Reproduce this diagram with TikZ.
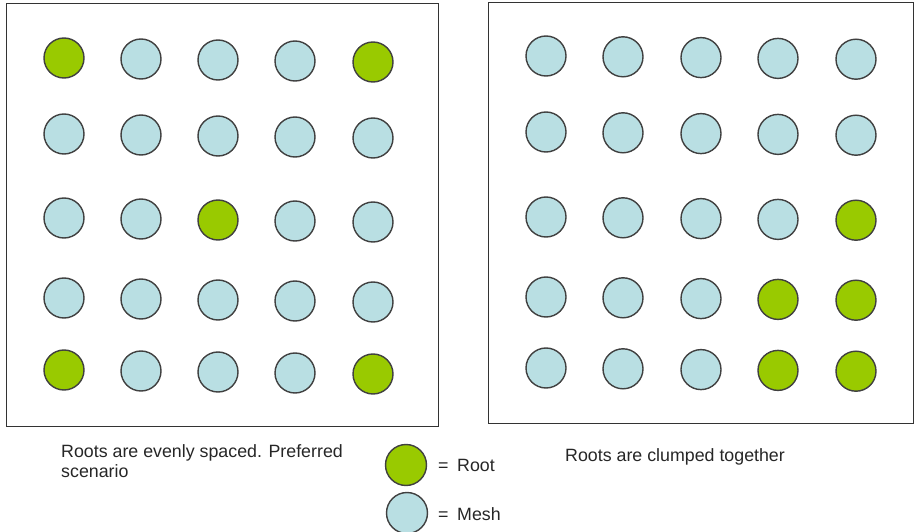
\documentclass[tikz,border=0pt]{standalone}
\usepackage{fontspec}
\setmainfont{Liberation Sans}
\definecolor{rootgreen}{HTML}{99CA00}
\definecolor{meshblue}{HTML}{B9DFE3}
\definecolor{edge}{HTML}{404040}
\begin{document}
\begin{tikzpicture}[x=1pt,y=-1pt,
  dot/.style={circle,draw=edge,line width=1.4pt,minimum size=40pt,inner sep=0pt},
  rootdot/.style={dot,fill=rootgreen},
  meshdot/.style={dot,fill=meshblue},
  frame/.style={draw=black!80,line width=1pt},
  lbl/.style={font=\fontsize{17.8pt}{22pt}\selectfont,anchor=base west,inner sep=0pt,text=black!85}]
\useasboundingbox (0,0) rectangle (914,532);
\node[frame,minimum width=432pt,minimum height=423pt,inner sep=0pt,anchor=north west] (leftbox) at (6,3) {};
\node[frame,minimum width=425pt,minimum height=421pt,inner sep=0pt,anchor=north west] (rightbox) at (488,2) {};
% left grid
\foreach \r/\y in {1/58,2/134,3/218,4/298,5/370}{
  \foreach \c/\x in {1/64,2/141,3/218,4/295,5/373}{
    \pgfmathsetmacro{\yy}{\y+(\c-1)*1}
    \ifnum\r=1 \ifnum\c=1 \def\st{rootdot}\else\ifnum\c=5 \def\st{rootdot}\else\def\st{meshdot}\fi\fi
    \else\ifnum\r=5 \ifnum\c=1 \def\st{rootdot}\else\ifnum\c=5 \def\st{rootdot}\else\def\st{meshdot}\fi\fi
    \else\ifnum\r=3 \ifnum\c=3 \def\st{rootdot}\else\def\st{meshdot}\fi
    \else\def\st{meshdot}\fi\fi\fi
    \node[\st] (L\r\c) at (\x,\yy) {};
  }
}
% right grid
\foreach \r/\y in {1/56,2/132,3/217,4/297,5/368}{
  \foreach \c/\x in {1/546,2/623,3/701,4/778,5/856}{
    \pgfmathsetmacro{\yy}{\y+(\c-1)*0.8}
    \pgfmathtruncatemacro{\isroot}{(\r==3 && \c==5) || (\r>=4 && \c>=4) ? 1 : 0}
    \ifnum\isroot=1 \def\st{rootdot}\else\def\st{meshdot}\fi
    \node[\st] (R\r\c) at (\x,\yy) {};
  }
}
% captions
\node[lbl] (cap1) at (61,457) {Roots are evenly spaced. Preferred};
\node[lbl] (cap1b) at (61,477.5) {scenario};
\node[lbl] (cap2) at (565,461.5) {Roots are clumped together};
% legend
\node[rootdot,minimum size=41pt] (legroot) at (406,465) {};
\node[meshdot,minimum size=41pt] (legmesh) at (407,513) {};
\node[lbl] (eq1) at (438,471.5) {=};
\node[lbl] (rootlbl) at (457,471.5) {Root};
\node[lbl] (eq2) at (438,520) {=};
\node[lbl] (meshlbl) at (457,520) {Mesh};
\end{tikzpicture}
\end{document}
